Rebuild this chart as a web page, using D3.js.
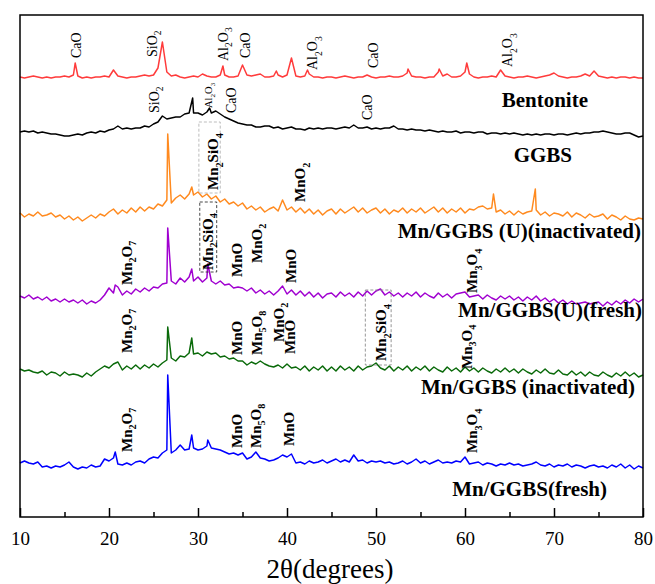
<!DOCTYPE html>
<html><head><meta charset="utf-8">
<script src="https://cdn.jsdelivr.net/npm/d3@7/dist/d3.min.js"></script>
<style>body{margin:0;background:#fff}svg{display:block}
text{font-family:"Liberation Serif","DejaVu Serif",serif}</style>
</head><body><svg id="c" width="655" height="584"></svg>
<script>
// ---------- DATA ----------
// 2θ grid (degrees), 0.5° step from 10 to 80
const twoTheta = d3.range(141).map(i => 10 + i * 0.5);
const xTicksMajor = [10, 20, 30, 40, 50, 60, 70, 80];
const xTicksMinor = [15, 25, 35, 45, 55, 65, 75];

const seriesNames = ["Bentonite", "GGBS", "Mn/GGBS (U)(inactivated)", "Mn/GGBS(U)(fresh)", "Mn/GGBS (inactivated)", "Mn/GGBS(fresh)"];
const seriesColors = ["#ff3b3b", "#000000", "#ff8a1f", "#a000d0", "#0a6a0a", "#0000ff"];
const seriesOffsets = [439, 377, 297, 212, 139, 47];   // vertical stacking offsets (a.u.)

// intensities (a.u.) on the 0.5° grid
const bentonite = [1,0,1,2,1,0,1,0,1,1,2,1, 3,2,0,1,0,1,1,2,
  1,8,2,1,0,1,1,2,3,2, 3,10,36,6,2,3,1,0,1,2, 1,4,2,1,1,3,3,1,1,2, 13,3,2,3,4,1,1,2,3,1,
  3,20,2,1,2,4,1,1,0,1, 1,0,1,2,1,0,1,1,3,1, 0,1,1,2,1,1,2,5,2,1, 1,0,1,1,6,2,4,1,1,2,
  6,4,1,0,1,1,2,1,8,2, 1,0,1,1,2,1,0,1,2,3, 5,2,1,0,1,1,2,4,2,7, 2,1,0,1,0,1,1,0,1,0, 0];
const ggbs = [8,9,8,9,7,8,7,6,6,5,4,4, 5,6,5,7,8,7,9,8,
  10,11,14,11,12,11,12,12,14,13, 16,18,24,21,22,23,23,26,27,27, 27,25,28,27,29,26,23,21,19,17, 16,15,15,13,13,14,14,12,13,11,
  12,13,11,11,10,12,11,12,11,12, 12,11,12,13,12,15,12,12,13,11, 12,11,12,12,14,11,11,10,11,10, 10,9,10,9,8,9,8,8,9,7,
  8,8,7,8,8,6,7,7,6,7, 6,7,6,5,6,5,6,5,6,6, 5,6,6,5,6,7,6,7,7,8, 8,9,8,7,6,6,7,7,5,3, 4];
const mnGgbsUInact = [7,3,6,4,8,4,5,7,3,5,1,4, 0,3,-1,2,5,2,6,4,
  8,11,6,10,7,12,8,13,9,13, 11,16,14,20,17,22,25,21,26,25, 28,23,26,21,24,18,21,16,18,14, 17,11,14,10,13,8,11,13,9,20,
  10,13,8,12,7,11,6,10,5,9, 11,6,11,7,10,13,8,12,7,10, 12,7,11,6,10,8,12,7,11,8, 12,7,10,13,8,12,7,11,8,12,
  7,11,10,13,14,11,12,8,10,6, 9,5,9,6,8,9,10,5,8,4, 7,6,4,8,3,7,5,2,6,3, 4,6,1,5,3,0,4,1,0,2, 1];
const mnGgbsUFresh = [9,7,10,6,8,5,8,4,6,3,6,3, 5,2,5,1,4,2,5,10,
  17,12,18,10,14,11,16,13,17,14, 18,17,21,22,24,21,27,23,28,24, 28,23,27,24,21,24,20,21,17,18, 17,14,17,12,15,11,14,10,14,19,
  11,15,10,14,9,13,8,12,7,11, 12,8,13,9,12,8,13,9,14,10, 14,16,10,13,9,12,8,12,9,13, 8,12,9,7,12,8,11,7,11,12,
  13,8,9,10,6,10,7,5,9,6, 9,5,8,4,8,5,9,4,7,3, 6,2,5,1,4,1,2,3,1,2, 3,-1,3,0,4,1,5,2,6,3, 6];
const mnGgbsInact = [9,7,8,6,5,7,3,6,5,2,6,3, 4,3,1,5,2,6,9,12,
  10,14,16,8,12,9,13,9,13,10, 14,11,15,18,20,17,22,21,25,24, 25,22,26,24,25,21,22,19,20,17, 17,13,16,14,17,14,12,11,13,10,
  14,10,11,8,12,7,11,8,12,7, 11,7,12,8,11,7,12,8,11,12, 15,10,8,12,7,11,8,12,7,11, 8,12,7,11,8,6,11,7,10,6,
  11,7,10,6,10,7,5,9,6,10, 6,9,5,9,6,4,8,5,9,5, 4,8,4,3,7,3,6,2,6,3, 2,6,3,1,5,2,6,2,5,1, 3];
const mnGgbsFresh = [7,9,7,6,8,3,4,2,4,3,5,8, 3,1,3,2,5,3,4,11,
  9,12,6,5,7,5,8,9,7,11, 13,12,17,20,17,20,25,20,21,22, 20,21,24,22,21,20,18,16,17,15, 17,11,13,18,12,11,9,10,12,15,
  13,16,7,8,6,9,7,8,10,7, 9,11,8,10,8,15,9,10,7,9, 8,9,7,8,6,7,9,6,8,11, 7,9,6,8,10,7,8,7,9,8,
  13,6,7,8,5,7,6,4,6,5, 7,5,6,4,5,6,8,5,4,6, 3,5,4,6,3,5,4,2,4,5, 3,4,2,5,3,6,2,5,1,4, 2];

// sharp reflections that fall between grid points: [2θ, intensity]
const bentonitePeaks = [[16.2,15],[32.8,12],[38.8,7],[42.3,8],[53.6,9],[57.1,9],[60.2,15]];
const ggbsPeaks = [[29.4,42],[31.3,32]];
const mnGgbsUInactPeaks = [[26.6,86],[29.3,33],[63.2,26],[67.9,31]];
const mnGgbsUFreshPeaks = [[20.7,20],[26.6,77],[29.3,36],[31.1,41]];
const mnGgbsInactPeaks = [[26.6,51],[29.3,40]];
const mnGgbsFreshPeaks = [[20.7,18],[26.6,95],[29.3,35],[31.1,30]];

// phase annotations: [label, 2θ, level above the series baseline]
const bentoniteLabels = [["CaO",16.3,20],["SiO2",24.9,21],["Al2O3",32.8,17],["CaO",35.3,20],["Al2O3",42.9,8],["CaO",49.7,10],["Al2O3",64.8,11]];
const ggbsLabels = [["SiO2",25.1,27],["Al2O3",31.2,32],["CaO",33.7,27],["CaO",49.0,20]];
const mnGgbsUInactLabels = [["Mn2SiO4",31.7,30],["MnO2",41.5,18]];
const mnGgbsUFreshLabels = [["Mn2O7",22.0,20],["Mn2SiO4",31.1,35],["MnO",34.4,28],["MnO2",36.6,42],["MnO",40.4,22],["Mn3O4",60.8,12]];
const mnGgbsInactLabels = [["Mn2O7",22.0,25],["MnO",34.4,23],["Mn5O8",36.6,23],["MnO2",39.1,36],["MnO",40.3,24],["Mn2SiO4",50.6,17],["Mn3O4",60.2,9]];
const mnGgbsFreshLabels = [["Mn2O7",22.0,18],["MnO",34.4,22],["Mn5O8",36.5,22],["MnO",40.2,24],["Mn3O4",60.8,17]];
// dashed boxes: [seriesIndex, 2θ from, 2θ to, level from, level to]
const phaseBoxes = [[2,30.1,32.5,27,98],[3,30.2,32.1,33,103],[4,48.8,51.7,13,88]];

// ---------- DRAW ----------
const svg = d3.select("#c");
const FONT = '"Liberation Serif","DejaVu Serif",serif';
const L = 20, R = 643, T = 15, B = 517;
const x = d3.scaleLinear().domain([10, 80]).range([L, R]);
const y = d3.scaleLinear().domain([0, 502]).range([B, T]);

const allValues = [bentonite, ggbs, mnGgbsUInact, mnGgbsUFresh, mnGgbsInact, mnGgbsFresh];
const allPeaks = [bentonitePeaks, ggbsPeaks, mnGgbsUInactPeaks, mnGgbsUFreshPeaks, mnGgbsInactPeaks, mnGgbsFreshPeaks];
const allLabels = [bentoniteLabels, ggbsLabels, mnGgbsUInactLabels, mnGgbsUFreshLabels, mnGgbsInactLabels, mnGgbsFreshLabels];

const line = d3.line().x(d => x(d[0])).y(d => y(d[1]));

allValues.forEach((vals, i) => {
  const off = seriesOffsets[i];
  const pk = allPeaks[i];
  const pkSet = new Set(pk.map(p => p[0].toFixed(2)));
  const pts = twoTheta.map((t, j) => [t, vals[j]]).filter(p => !pkSet.has(p[0].toFixed(2)))
    .concat(pk).sort((a, b) => a[0] - b[0]).map(p => [p[0], off + p[1]]);
  svg.append("path").attr("d", line(pts)).attr("fill", "none")
    .attr("stroke", seriesColors[i]).attr("stroke-width", 1.5).attr("stroke-linejoin", "round");
});

// dashed boxes
const boxColors = {2: "#b5b5b5", 3: "#333", 4: "#8a8a8a"};
phaseBoxes.forEach(b => {
  const off = seriesOffsets[b[0]];
  svg.append("rect").attr("x", x(b[1])).attr("y", y(off + b[4]))
    .attr("width", x(b[2]) - x(b[1])).attr("height", y(off + b[3]) - y(off + b[4]))
    .attr("fill", "none").attr("stroke", boxColors[b[0]]).attr("stroke-width", 0.9).attr("stroke-dasharray", "3,2");
});

// formula text with subscripts, rotated -90°
function formula(px, py, str, size, bold) {
  const t = svg.append("text").attr("transform", `translate(${px},${py}) rotate(-90)`)
    .style("font-family", FONT).attr("font-size", size).attr("font-weight", bold ? "bold" : "normal")
    .attr("dy", "0.33em").attr("fill", "#000");
  const parts = str.match(/[A-Za-z]+|\d+/g);
  const sh = size * 0.3;
  let sub = false;
  parts.forEach(p => {
    const isNum = /\d/.test(p);
    const ts = t.append("tspan").text(p);
    if (isNum) { ts.attr("font-size", size * 0.68).attr("dy", sh); sub = true; }
    else { if (sub) ts.attr("dy", -sh); sub = false; }
  });
}

allLabels.forEach((labs, i) => {
  const off = seriesOffsets[i];
  const big = i >= 2;
  labs.forEach(l => {
    let size = big ? 15 : 14;
    if (i === 1 && l[0] === "Al2O3") size = 10.5;
    formula(x(l[1]), y(off + l[2]), l[0], size, big);
  });
});

// series names
const nameRight = [588, 572, 641, 642, 635, 607];
const nameBase = [107, 162, 238, 317, 394, 496];
seriesNames.forEach((n, i) => {
  svg.append("text").attr("x", nameRight[i]).attr("y", nameBase[i]).attr("text-anchor", "end")
    .style("font-family", FONT).attr("font-weight", "bold").attr("font-size", 21).text(n);
});

// axes
const gMaj = svg.append("g").attr("transform", `translate(0,${B})`)
  .call(d3.axisBottom(x).tickValues(xTicksMajor).tickSize(-9).tickPadding(15).tickFormat(d3.format("d")));
gMaj.attr("font-family", null);
gMaj.select(".domain").remove();
gMaj.selectAll("line").attr("stroke-width", 1.5);
gMaj.selectAll("text").style("font-family", FONT).attr("font-size", 19).attr("fill", "#000");
const gMin = svg.append("g").attr("transform", `translate(0,${B})`)
  .call(d3.axisBottom(x).tickValues(xTicksMinor).tickSize(-5).tickFormat(""));
gMin.select(".domain").remove();
gMin.selectAll("line").attr("stroke-width", 1.5);

svg.append("rect").attr("x", L).attr("y", T).attr("width", R - L).attr("height", B - T)
  .attr("fill", "none").attr("stroke", "#000").attr("stroke-width", 1.5);

svg.append("text").attr("x", 330).attr("y", 578).attr("text-anchor", "middle")
  .style("font-family", FONT).attr("font-size", 27).text("2θ(degrees)");
</script></body></html>
